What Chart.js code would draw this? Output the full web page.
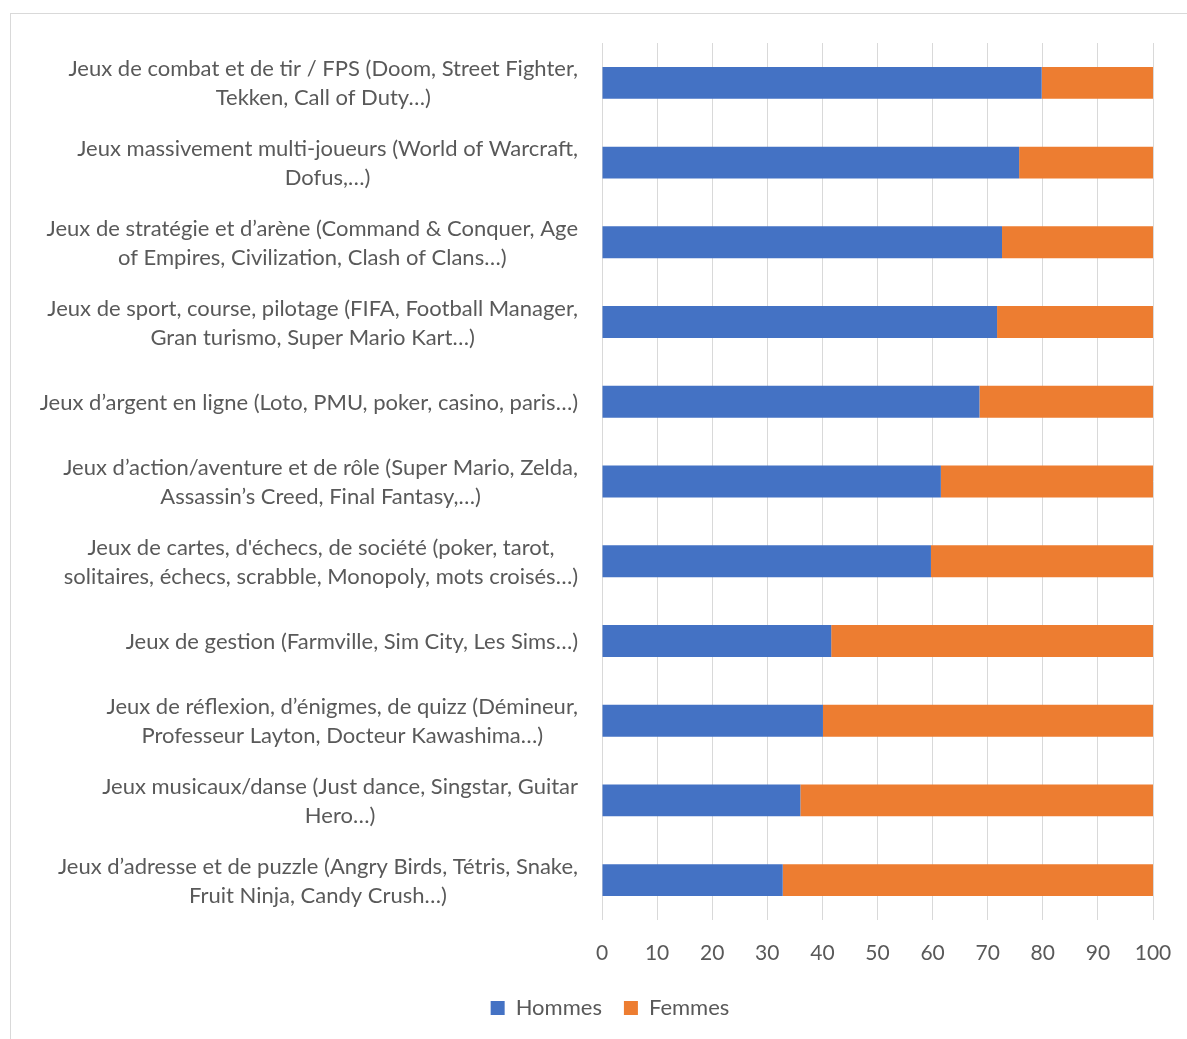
<!DOCTYPE html>
<html><head><meta charset="utf-8">
<script src="https://cdn.jsdelivr.net/npm/chart.js@4"></script>
<style>
html,body{margin:0;padding:0;background:#fff;width:1187px;height:1039px;overflow:hidden}
#frame{position:absolute;left:10px;top:13px;width:1300px;height:1200px;border:1px solid #d9d9d9;box-sizing:border-box}
#wrap{position:absolute;left:0;top:0;width:1187px;height:1039px}
</style></head><body>
<div id="frame"></div>
<div id="wrap"><canvas id="c"></canvas></div>
<script>
const categories = [
  ["Jeux de combat et de tir / FPS (Doom, Street Fighter,", "Tekken, Call of Duty…)"],
  ["Jeux massivement multi-joueurs (World of Warcraft,", "Dofus,…)"],
  ["Jeux de stratégie et d’arène (Command & Conquer, Age", "of Empires, Civilization, Clash of Clans…)"],
  ["Jeux de sport, course, pilotage (FIFA, Football Manager,", "Gran turismo, Super Mario Kart…)"],
  ["Jeux d’argent en ligne (Loto, PMU, poker, casino, paris…)"],
  ["Jeux d’action/aventure et de rôle (Super Mario, Zelda,", "Assassin’s Creed, Final Fantasy,…)"],
  ["Jeux de cartes, d'échecs, de société (poker, tarot,", "solitaires, échecs, scrabble, Monopoly, mots croisés…)"],
  ["Jeux de gestion (Farmville, Sim City, Les Sims…)"],
  ["Jeux de réflexion, d’énigmes, de quizz (Démineur,", "Professeur Layton, Docteur Kawashima…)"],
  ["Jeux musicaux/danse (Just dance, Singstar, Guitar", "Hero…)"],
  ["Jeux d’adresse et de puzzle (Angry Birds, Tétris, Snake,", "Fruit Ninja, Candy Crush…)"]
];
const hommes = [79.8, 75.7, 72.6, 71.7, 68.5, 61.5, 59.7, 41.6, 40.1, 36.0, 32.8];
const femmes = [20.2, 24.3, 27.4, 28.3, 31.5, 38.5, 40.3, 58.4, 59.9, 64.0, 67.2];
const seriesNames = ["Hommes", "Femmes"];
const xMin = 0, xMax = 100, xStep = 10;

const FONT = 'Lato';
const TEXT = '#595959';
const LABEL_SIZE = 22;
const LINE_H = 29;

const yLabelPlugin = {
  id: 'yLabels',
  afterDraw(chart) {
    const ctx = chart.ctx, ys = chart.scales.y;
    ctx.save();
    ctx.font = LABEL_SIZE + 'px ' + FONT;
    ctx.fillStyle = TEXT;
    ctx.textAlign = 'center';
    ctx.textBaseline = 'middle';
    const right = ys.right - 24;
    categories.forEach((lines, i) => {
      const w = Math.max(...lines.map(l => ctx.measureText(l).width));
      const cx = right - w / 2;
      const cy = ys.getPixelForValue(i);
      lines.forEach((l, j) => ctx.fillText(l, cx, cy + 1 + (j - (lines.length - 1) / 2) * LINE_H));
    });
    ctx.restore();
  }
};

new Chart(document.getElementById('c'), {
  type: 'bar',
  data: {
    labels: categories,
    datasets: [
      { label: seriesNames[0], data: hommes, backgroundColor: '#4472C4', barPercentage: 0.4, categoryPercentage: 1.0 },
      { label: seriesNames[1], data: femmes, backgroundColor: '#ED7D31', barPercentage: 0.4, categoryPercentage: 1.0 }
    ]
  },
  options: {
    indexAxis: 'y',
    responsive: true,
    maintainAspectRatio: false,
    animation: false,
    layout: { padding: { left: 67, right: 34, top: 43, bottom: 10 } },
    plugins: {
      tooltip: { enabled: false },
      legend: {
        position: 'bottom',
        labels: {
          boxWidth: 14, boxHeight: 14, padding: 22,
          color: TEXT, font: { family: FONT, size: 22 }
        }
      }
    },
    scales: {
      x: {
        stacked: true, min: xMin, max: xMax,
        ticks: { stepSize: xStep, color: TEXT, font: { family: FONT, size: 21 }, padding: 21 },
        grid: { color: '#d9d9d9', lineWidth: 1, drawTicks: false },
        border: { display: false },
        afterFit(s) { s.height = 55; s.paddingRight = 0; s.paddingLeft = 0; }
      },
      y: {
        stacked: true,
        ticks: { display: false },
        grid: { display: false },
        border: { display: false },
        afterFit(s) { s.width = 535; }
      }
    }
  },
  plugins: [yLabelPlugin]
});
</script>
</body></html>
